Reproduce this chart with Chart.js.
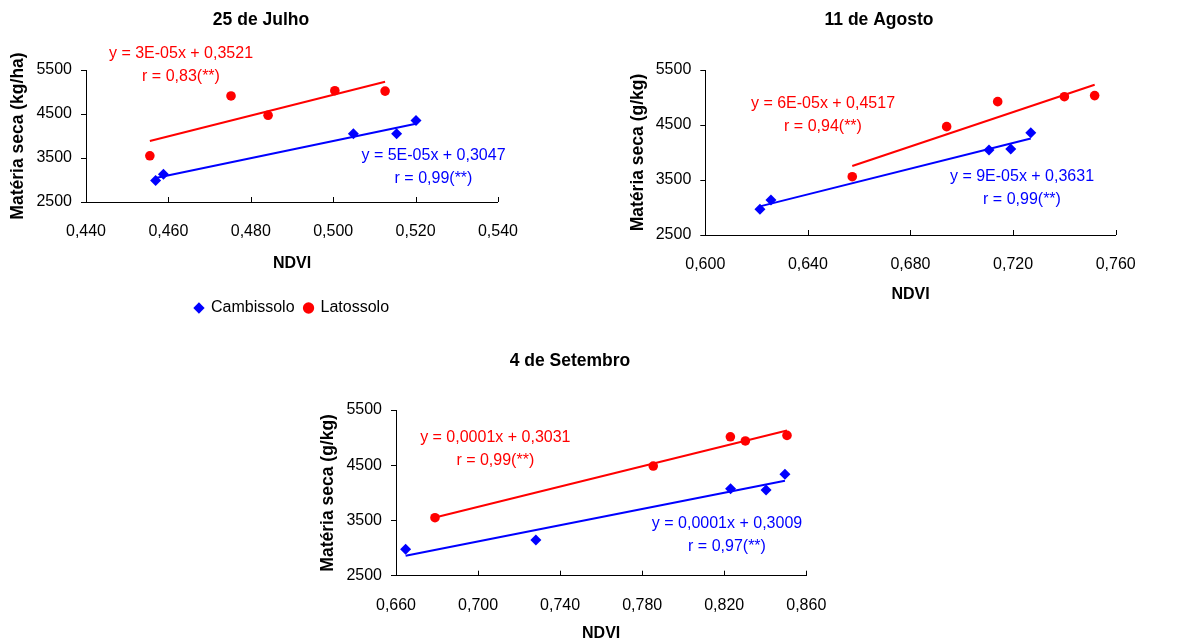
<!DOCTYPE html>
<html>
<head>
<meta charset="utf-8">
<script src="https://cdn.jsdelivr.net/npm/chart.js@4"></script>
<style>
body { margin: 0; background: #fff; }
#page { position: relative; width: 1182px; height: 643px; overflow: hidden; background: #fff; }
canvas { position: absolute; }
#c1 { left: 0; top: 0; }
#c2 { left: 620px; top: 0; }
#c3 { left: 310px; top: 340px; }
</style>
</head>
<body>
<div id="page">
<canvas id="c1" width="522" height="326"></canvas>
<canvas id="c2" width="518" height="305"></canvas>
<canvas id="c3" width="520" height="303"></canvas>
</div>
<script>
var seriesNames = ['Cambissolo', 'Latossolo'];
var yTicks = [2500, 3500, 4500, 5500];

// 25 de Julho
var julhoXTicks = [0.44, 0.46, 0.48, 0.50, 0.52, 0.54];
var julhoCambX = [0.4569, 0.4588, 0.5049, 0.5154, 0.5201];
var julhoCambY = [2990, 3130, 4050, 4050, 4350];
var julhoLatX = [0.4555, 0.4752, 0.4842, 0.5004, 0.5126];
var julhoLatY = [3550, 4910, 4470, 5030, 5020];
var julhoEq = [['y = 5E-05x + 0,3047', 'r = 0,99(**)'], ['y = 3E-05x + 0,3521', 'r = 0,83(**)']];

// 11 de Agosto
var agostoXTicks = [0.60, 0.64, 0.68, 0.72, 0.76];
var agostoCambX = [0.6213, 0.6256, 0.7106, 0.7191, 0.7269];
var agostoCambY = [2970, 3135, 4045, 4065, 4360];
var agostoLatX = [0.6573, 0.6941, 0.7140, 0.7400, 0.7518];
var agostoLatY = [3560, 4470, 4925, 5015, 5035];
var agostoEq = [['y = 9E-05x + 0,3631', 'r = 0,99(**)'], ['y = 6E-05x + 0,4517', 'r = 0,94(**)']];

// 4 de Setembro
var setembroXTicks = [0.66, 0.70, 0.74, 0.78, 0.82, 0.86];
var setembroCambX = [0.6647, 0.7282, 0.8231, 0.8404, 0.8496];
var setembroCambY = [2980, 3145, 4075, 4050, 4335];
var setembroLatX = [0.6790, 0.7854, 0.8230, 0.8303, 0.8506];
var setembroLatY = [3550, 4485, 5015, 4940, 5040];
var setembroEq = [['y = 0,0001x + 0,3009', 'r = 0,97(**)'], ['y = 0,0001x + 0,3031', 'r = 0,99(**)']];

var BLUE = '#0000ff';
var RED = '#ff0000';
var FONT = "'Liberation Sans', Arial, sans-serif";

Chart.defaults.font.family = FONT;
Chart.defaults.color = '#000';

function pts(xs, ys) {
    return xs.map(function(x, i) { return {x: x, y: ys[i]}; });
}

// linha de tendência (mínimos quadrados), do menor ao maior x
function trend(xs, ys) {
    var n = xs.length, mx = 0, my = 0, sxy = 0, sxx = 0;
    for (var i = 0; i < n; i++) { mx += xs[i] / n; my += ys[i] / n; }
    for (var j = 0; j < n; j++) {
        sxy += (xs[j] - mx) * (ys[j] - my);
        sxx += (xs[j] - mx) * (xs[j] - mx);
    }
    var b = sxy / sxx, a = my - b * mx;
    var x0 = Math.min.apply(null, xs), x1 = Math.max.apply(null, xs);
    return [{x: x0, y: a + b * x0}, {x: x1, y: a + b * x1}];
}

// textos das equações e marcas do eixo x para dentro
var extras = {
    id: 'extras',
    afterDraw: function(chart) {
        var o = chart.options.plugins.extras;
        var ctx = chart.ctx;
        var xs = chart.scales.x;
        var bottom = chart.chartArea.bottom;
        ctx.save();
        ctx.strokeStyle = '#000';
        ctx.lineWidth = 1;
        xs.ticks.forEach(function(t) {
            var px = Math.round(xs.getPixelForValue(t.value)) + 0.5;
            ctx.beginPath();
            ctx.moveTo(px, bottom);
            ctx.lineTo(px, bottom - 5);
            ctx.stroke();
        });
        ctx.font = '16px ' + FONT;
        ctx.textAlign = 'center';
        ctx.textBaseline = 'middle';
        o.labels.forEach(function(lab) {
            ctx.fillStyle = lab.color;
            lab.lines.forEach(function(line, k) {
                ctx.fillText(line, lab.x, lab.y + k * 23);
            });
        });
        ctx.restore();
    }
};

function makeChart(id, c) {
    var xTicks = c.xTicks;
    return new Chart(document.getElementById(id), {
        type: 'scatter',
        data: {
            datasets: [
                { label: seriesNames[0], data: pts(c.cambX, c.cambY), pointStyle: 'rectRot', pointRadius: 5.5,
                  backgroundColor: BLUE, borderColor: BLUE, borderWidth: 0, order: 0 },
                { label: seriesNames[1], data: pts(c.latX, c.latY), pointStyle: 'circle', pointRadius: 4.8,
                  backgroundColor: RED, borderColor: RED, borderWidth: 0, order: 0 },
                { type: 'line', label: 'trend1', data: trend(c.cambX, c.cambY), borderColor: BLUE, borderWidth: 2,
                  pointRadius: 0, showLine: true, fill: false, order: 1 },
                { type: 'line', label: 'trend2', data: trend(c.latX, c.latY), borderColor: RED, borderWidth: 2,
                  pointRadius: 0, showLine: true, fill: false, order: 1 }
            ]
        },
        options: {
            responsive: false,
            animation: false,
            events: [],
            layout: { padding: 0 },
            scales: {
                x: {
                    type: 'linear',
                    min: xTicks[0],
                    max: xTicks[xTicks.length - 1],
                    afterBuildTicks: function(axis) {
                        axis.ticks = xTicks.map(function(v) { return {value: v}; });
                    },
                    afterFit: function(axis) { axis.height = c.xHeight; },
                    ticks: {
                        padding: c.xPad,
                        font: { size: 16 },
                        maxRotation: 0,
                        callback: function(v) { return Number(v).toFixed(3).replace('.', ','); }
                    },
                    grid: { display: true, drawOnChartArea: false, drawTicks: true,
                            tickLength: 20 - c.xPad, tickColor: 'rgba(0,0,0,0)' },
                    border: { color: '#000', width: 1 },
                    title: { display: true, text: 'NDVI', font: { size: 16, weight: 'bold' },
                             padding: { top: 0, bottom: c.xTitlePad } }
                },
                y: {
                    min: yTicks[0],
                    max: yTicks[yTicks.length - 1],
                    afterBuildTicks: function(axis) {
                        axis.ticks = yTicks.map(function(v) { return {value: v}; });
                    },
                    afterFit: function(axis) { axis.width = c.yWidth; },
                    ticks: { padding: 9, font: { size: 16 }, callback: function(v) { return String(v); } },
                    grid: { drawOnChartArea: false, drawTicks: true, tickLength: 5, color: '#000' },
                    border: { color: '#000', width: 1 },
                    title: { display: true, text: c.yTitle, font: { size: 17.5, weight: 'bold' },
                             padding: { top: 7.5, bottom: 7.5 } }
                }
            },
            plugins: {
                title: {
                    display: true, text: c.title, color: '#000',
                    font: { size: 17.5, weight: 'bold', lineHeight: 1.2 },
                    padding: { top: c.titleTop, bottom: c.titleBottom }
                },
                legend: {
                    display: !!c.legend,
                    position: 'bottom',
                    fullSize: false,
                    labels: {
                        usePointStyle: true, boxWidth: 8, boxHeight: 8, padding: 10,
                        font: { size: 16 }, color: '#000',
                        filter: function(item) { return item.datasetIndex < 2; }
                    }
                },
                tooltip: { enabled: false },
                extras: {
                    labels: [
                        { lines: c.eq[0], color: BLUE, x: c.eqPos[0][0], y: c.eqPos[0][1] },
                        { lines: c.eq[1], color: RED, x: c.eqPos[1][0], y: c.eqPos[1][1] }
                    ]
                }
            }
        },
        plugins: [extras]
    });
}

makeChart('c1', {
    title: '25 de Julho', yTitle: 'Matéria seca (kg/ha)',
    xTicks: julhoXTicks, cambX: julhoCambX, cambY: julhoCambY, latX: julhoLatX, latY: julhoLatY,
    eq: julhoEq, eqPos: [[433.5, 155.5], [181, 53.5]],
    titleTop: 9.5, titleBottom: 39.5, yWidth: 86, xPad: 4, xHeight: 88, xTitlePad: 16.5, legend: true
});

makeChart('c2', {
    title: '11 de Agosto', yTitle: 'Matéria seca (g/kg)',
    xTicks: agostoXTicks, cambX: agostoCambX, cambY: agostoCambY, latX: agostoLatX, latY: agostoLatY,
    eq: agostoEq, eqPos: [[402, 177], [203, 103.5]],
    titleTop: 9.5, titleBottom: 39.5, yWidth: 85.3, xPad: 2.3, xHeight: 70, xTitlePad: 0.5, legend: false
});

makeChart('c3', {
    title: '4 de Setembro', yTitle: 'Matéria seca (g/kg)',
    xTicks: setembroXTicks, cambX: setembroCambX, cambY: setembroCambY, latX: setembroLatX, latY: setembroLatY,
    eq: setembroEq, eqPos: [[417, 184], [185.3, 97.5]],
    titleTop: 10.2, titleBottom: 38.8, yWidth: 86, xPad: 3.7, xHeight: 67.3, xTitlePad: 0, legend: false
});
</script>
</body>
</html>
